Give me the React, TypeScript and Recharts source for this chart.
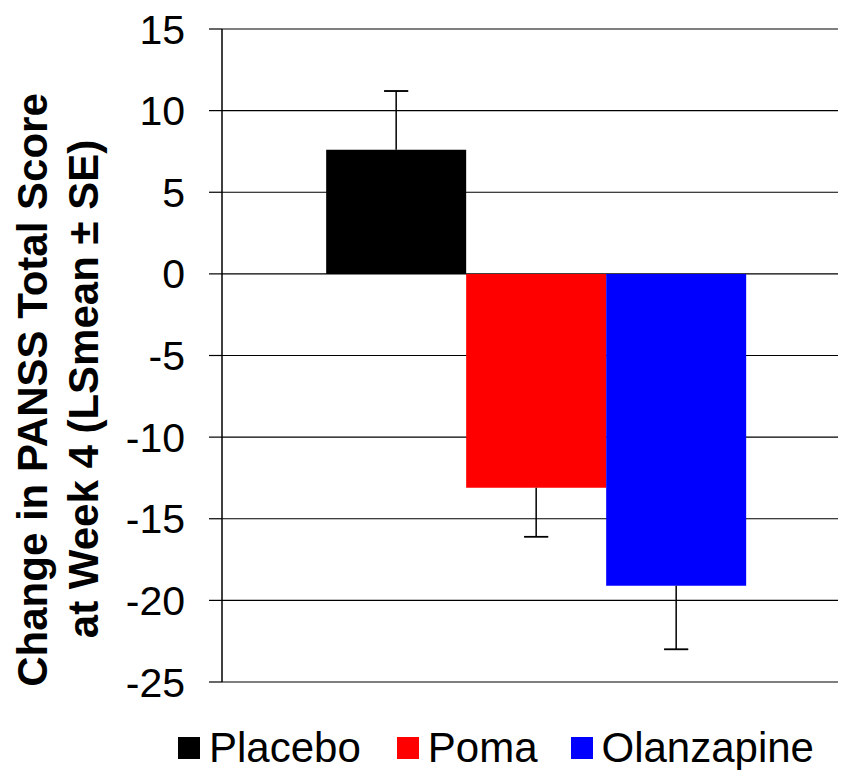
import React from "react";
import { Bar, BarChart, CartesianGrid, ErrorBar, Legend, XAxis, YAxis } from "recharts";

// Change from baseline in PANSS total at week 4, one group of three arms.
const categories = ["Week 4"];
const seriesKeys = ["placebo", "poma", "olanzapine"];
const seriesNames = ["Placebo", "Poma", "Olanzapine"];
const seriesColors = ["#000000", "#ff0000", "#0000ff"];
const lsMeans = [7.6, -13.1, -19.1];
const standardErrors = [3.6, 3.0, 3.9];
const yTicks = [15, 10, 5, 0, -5, -10, -15, -20, -25];

const FONT = "'Liberation Sans', Arial, Helvetica, sans-serif";

// The whisker only points away from zero; a second, zero-length error bar
// puts the single cap on its outer end (ErrorBar always caps both ends).
const data = categories.map((name) => {
  const row: Record<string, unknown> = { name };
  seriesKeys.forEach((key, i) => {
    const v = lsMeans[i];
    const se = standardErrors[i];
    row[key] = v;
    row[`${key}Err`] = v >= 0 ? [0, se] : [se, 0];
    row[`${key}Cap`] = v >= 0 ? [-se, se] : [se, -se];
  });
  return row;
});

function YLabel() {
  return (
    <g fontFamily={FONT} fontWeight="bold" fontSize={42} fill="#000">
      <text x={39} y={382} transform="rotate(-90, 39, 382)" textAnchor="middle">
        Change in PANSS Total Score
      </text>
      <text x={90} y={381} transform="rotate(-90, 90, 381)" textAnchor="middle">
        at Week 4 (LSmean ± SE)
      </text>
    </g>
  );
}

function LegendContent() {
  return (
    <div
      style={{
        height: 88,
        display: "flex",
        alignItems: "flex-end",
        paddingLeft: 170,
        paddingBottom: 2,
        boxSizing: "border-box",
        fontFamily: FONT,
        fontSize: 42,
        color: "#000",
      }}
    >
      {seriesNames.map((name, i) => (
        <div
          key={name}
          style={{ display: "flex", alignItems: "center", height: 40, lineHeight: "40px", marginRight: i === 0 ? 36 : 33 }}
        >
          <span style={{ width: 22, height: 22, background: seriesColors[i], marginRight: 9, display: "inline-block" }} />
          <span>{name}</span>
        </div>
      ))}
    </div>
  );
}

export default function App() {
  return (
    <div style={{ width: 838, height: 762, fontFamily: FONT }}>
      <BarChart
        width={838}
        height={762}
        data={data}
        margin={{ top: 21, right: 8, left: 0, bottom: 0 }}
        barCategoryGap="15.4%"
        barGap={0}
      >
        <CartesianGrid vertical={false} stroke="#000" strokeWidth={1.2} />
        <XAxis dataKey="name" hide padding={{ left: 11, right: 0 }} />
        <YAxis
          domain={[-25, 15]}
          ticks={yTicks}
          interval={0}
          width={214}
          tickSize={13}
          tickMargin={24}
          axisLine={{ stroke: "#000", strokeWidth: 1.5 }}
          tickLine={{ stroke: "#000", strokeWidth: 1.2 }}
          tick={{ fill: "#000", fontSize: 41, fontFamily: FONT }}
          label={<YLabel />}
        />
        <Legend verticalAlign="bottom" content={<LegendContent />} wrapperStyle={{ left: 0, bottom: 0, width: 838 }} />
        {seriesKeys.map((key, i) => (
          <Bar key={key} dataKey={key} name={seriesNames[i]} fill={seriesColors[i]} isAnimationActive={false}>
            <ErrorBar dataKey={`${key}Err`} width={0} stroke="#000" strokeWidth={1.5} />
            <ErrorBar dataKey={`${key}Cap`} width={12} stroke="#000" strokeWidth={1.5} />
          </Bar>
        ))}
      </BarChart>
    </div>
  );
}
